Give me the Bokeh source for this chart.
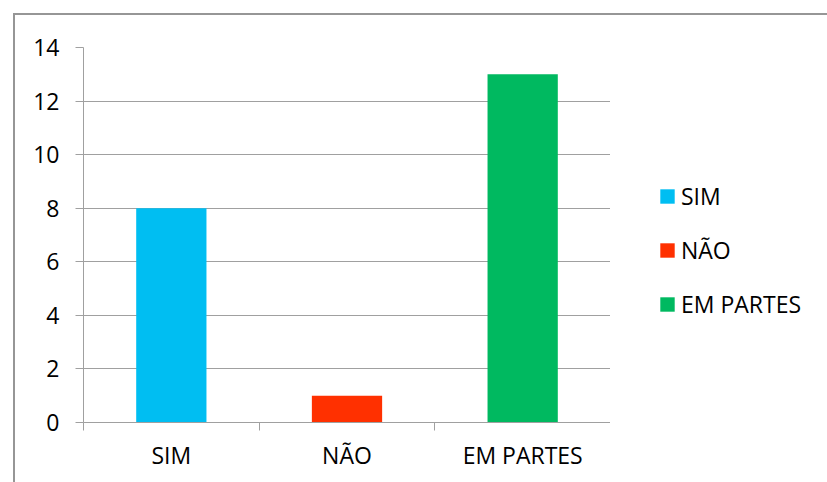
from bokeh.plotting import figure
from bokeh.layouts import row
from bokeh.models import ColumnDataSource, FixedTicker, Legend, LegendItem
from bokeh.embed import file_html
from bokeh.resources import INLINE

# Answers to the question
categories = ["SIM", "NÃO", "EM PARTES"]
counts = [8, 1, 13]
colors = ["#00BEF2", "#FF3000", "#00B960"]
y_ticks = [0, 2, 4, 6, 8, 10, 12, 14]

FONT = "Open Sans"
FONT_SIZE = "23px"
GRID = "#A0A0A0"

positions = [i + 0.5 for i in range(len(categories))]
source = ColumnDataSource(dict(x=positions, top=counts, color=colors, label=categories))

# ---- bar chart -------------------------------------------------------------
p = figure(
    width=595, height=467,
    x_range=(0, len(categories)), y_range=(0, 14),
    output_backend="svg", toolbar_location=None,
    min_border_left=68, min_border_top=32, min_border_right=0, min_border_bottom=60,
    outline_line_color=None,
    background_fill_color="white", border_fill_color="white",
)

p.vbar(x="x", top="top", width=0.4, fill_color="color", line_color=None, source=source)

# y axis
p.yaxis.ticker = FixedTicker(ticks=y_ticks)
p.yaxis.axis_line_color = GRID
p.yaxis.major_tick_line_color = GRID
p.yaxis.major_tick_out = 8
p.yaxis.major_tick_in = 0
p.yaxis.minor_tick_line_color = None
p.yaxis.major_label_standoff = 16
p.yaxis.major_label_text_font = FONT
p.yaxis.major_label_text_font_size = FONT_SIZE
p.yaxis.major_label_text_color = "black"

# x axis: labels at bar centres, tick marks at category boundaries
p.xaxis.ticker = FixedTicker(ticks=positions, minor_ticks=list(range(len(categories) + 1)))
p.xaxis.major_label_overrides = {pos: lab for pos, lab in zip(positions, categories)}
p.xaxis.axis_line_color = GRID
p.xaxis.major_tick_line_color = None
p.xaxis.major_tick_out = 0
p.xaxis.major_tick_in = 0
p.xaxis.minor_tick_line_color = GRID
p.xaxis.minor_tick_out = 8
p.xaxis.minor_tick_in = 0
p.xaxis.major_label_standoff = 8
p.xaxis.major_label_text_font = FONT
p.xaxis.major_label_text_font_size = FONT_SIZE
p.xaxis.major_label_text_color = "black"

p.xgrid.grid_line_color = None
p.ygrid.ticker = FixedTicker(ticks=y_ticks)
p.ygrid.grid_line_color = GRID
p.ygrid.grid_line_width = 1

# ---- legend panel to the right -----------------------------------------------
lf = figure(
    width=217, height=467,
    x_range=(0, 1), y_range=(0, 1),
    output_backend="svg", toolbar_location=None,
    min_border=0, outline_line_color=None,
    background_fill_color="white", border_fill_color="white",
)
lf.axis.visible = False
lf.grid.visible = False
lr = lf.vbar(x="x", top="top", width=0.4, fill_color="color", line_color=None,
             source=source, visible=False)

legend = Legend(
    items=[LegendItem(label=c, renderers=[lr], index=i) for i, c in enumerate(categories)],
    location=(48, 102),
    glyph_width=18, glyph_height=18,
    label_height=30, label_standoff=5, spacing=22, padding=0, margin=0,
    border_line_color=None, background_fill_alpha=0,
    label_text_font=FONT, label_text_font_size=FONT_SIZE, label_text_color="black",
)
lf.add_layout(legend, "center")

layout = row(p, lf, spacing=0)
layout.styles = {
    "margin-left": "13px", "margin-top": "13px",
    "border-left": "2px solid #969696", "border-top": "2px solid #969696",
}

open("out.html", "w").write(file_html(layout, INLINE))
